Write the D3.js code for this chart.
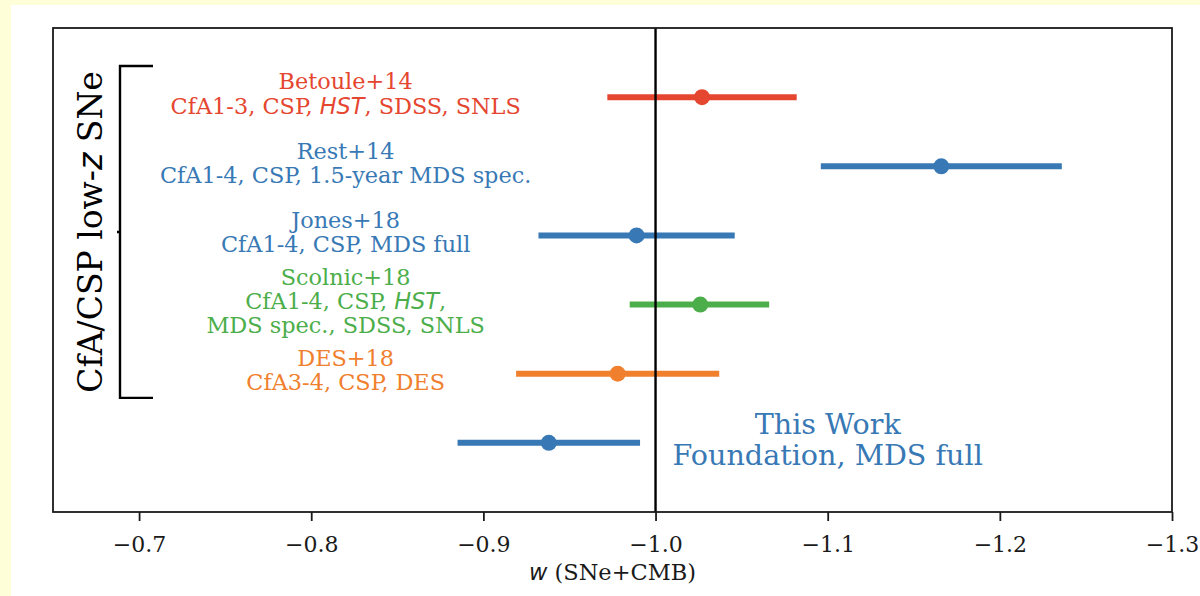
<!DOCTYPE html>
<html>
<head>
<meta charset="utf-8">
<script src="https://cdn.jsdelivr.net/npm/d3@7"></script>
<style>
  body { margin: 0; background: #fefed8; }
  svg { display: block; }
</style>
</head>
<body>
<svg id="chart" width="1200" height="596"></svg>
<script>
// Dark-energy equation-of-state constraints from SN Ia compilations
const analyses = ["Betoule+14", "Rest+14", "Jones+18", "Scolnic+18", "DES+18", "This Work"];
// Sample descriptions; text between $...$ is set in italic sans
const samples = [
  ["CfA1-3, CSP, $HST$, SDSS, SNLS"],
  ["CfA1-4, CSP, 1.5-year MDS spec."],
  ["CfA1-4, CSP, MDS full"],
  ["CfA1-4, CSP, $HST$,", "MDS spec., SDSS, SNLS"],
  ["CfA3-4, CSP, DES"],
  ["Foundation, MDS full"]
];
const wBest = [-1.027, -1.166, -0.989, -1.026, -0.978, -0.938];
const wLow  = [-0.972, -1.096, -0.932, -0.985, -0.919, -0.885];
const wHigh = [-1.082, -1.236, -1.046, -1.066, -1.037, -0.991];
const colors = ["#e5462f", "#3879b5", "#3879b5", "#4cae4a", "#f0802e", "#3879b5"];
const xTicks = [-0.7, -0.8, -0.9, -1.0, -1.1, -1.2, -1.3];
const groupLabel = "CfA/CSP low-";

const svg = d3.select("#chart");
const W = 1200, H = 596;
const plot = { left: 53, top: 28, right: 1172, bottom: 512 };
const serif = "'DejaVu Serif', serif";
const sansIt = "'DejaVu Sans', sans-serif";

// figure background
svg.append("rect").attr("x", 11).attr("y", 5).attr("width", W - 11).attr("height", H - 5).attr("fill", "#ffffff");

const x = d3.scaleLinear().domain([-0.65, -1.3]).range([plot.left, plot.right]);
const y = d3.scaleLinear().domain([0, analyses.length + 1]).range([plot.top, plot.bottom]);

// x axis
const xAxis = d3.axisBottom(x).tickValues(xTicks).tickSize(9).tickSizeOuter(0)
  .tickFormat(d => d3.format(".1f")(d).replace("-", "\u2212"));
const gx = svg.append("g").attr("transform", `translate(0,${plot.bottom})`).call(xAxis);
gx.select(".domain").remove();
gx.selectAll(".tick line").attr("stroke", "#1a1a1a").attr("stroke-width", 1.8);
gx.selectAll(".tick text").attr("font-family", serif).attr("font-size", 22)
  .attr("fill", "#1a1a1a").attr("dy", null).attr("y", 40);

// axis label: italic w followed by serif text
const xl = svg.append("text").attr("x", (plot.left + plot.right) / 2).attr("y", 580)
  .attr("text-anchor", "middle").attr("font-size", 22.5).attr("fill", "#1a1a1a");
xl.append("tspan").attr("font-family", sansIt).attr("font-style", "italic").text("w");
xl.append("tspan").attr("font-family", serif).text(" (SNe+CMB)");

// error bars and best-fit points
const idx = d3.range(analyses.length);
svg.append("g").selectAll("line").data(idx).join("line")
  .attr("x1", i => x(wLow[i])).attr("x2", i => x(wHigh[i]))
  .attr("y1", i => y(i + 1)).attr("y2", i => y(i + 1))
  .attr("stroke", i => colors[i]).attr("stroke-width", 6);
svg.append("g").selectAll("circle").data(idx).join("circle")
  .attr("cx", i => x(wBest[i])).attr("cy", i => y(i + 1)).attr("r", 8)
  .attr("fill", i => colors[i]);

// w = -1 reference
svg.append("line").attr("x1", x(-1)).attr("x2", x(-1))
  .attr("y1", plot.top).attr("y2", plot.bottom)
  .attr("stroke", "#000").attr("stroke-width", 2.4);

// write a line with $...$ segments in italic sans
function richLine(sel, str) {
  str.split("$").forEach((part, k) => {
    if (!part) return;
    const t = sel.append("tspan").text(part);
    if (k % 2 === 1) t.attr("font-family", sansIt).attr("font-style", "italic");
  });
}

// labels for the literature analyses
const labelX = x(-0.82);
const lineGap = 24.3;
idx.slice(0, 5).forEach(i => {
  const lines = [analyses[i]].concat(samples[i]);
  const n = lines.length;
  lines.forEach((ln, k) => {
    const t = svg.append("text").attr("x", labelX)
      .attr("y", y(i + 1) + 4.5 + (k - (n - 1) / 2) * lineGap)
      .attr("text-anchor", "middle").attr("font-family", serif).attr("font-size", 22.4)
      .attr("fill", colors[i]);
    richLine(t, ln);
  });
});

// label for this analysis
const last = analyses.length - 1;
[analyses[last]].concat(samples[last]).forEach((ln, k) => {
  svg.append("text").attr("x", x(-1.1)).attr("y", y(last + 1) - 9 + k * 31)
    .attr("text-anchor", "middle").attr("font-family", serif).attr("font-size", 28.6)
    .attr("fill", colors[last]).text(ln);
});

// bracket grouping the CfA/CSP low-z analyses
const bTop = y(0.55), bBot = y(5.35), bX = 120, bEnd = 153;
svg.append("path")
  .attr("d", `M${bEnd},${bTop}H${bX}V${bBot}H${bEnd}M${bX},${(bTop + bBot) / 2}h-3`)
  .attr("fill", "none").attr("stroke", "#000").attr("stroke-width", 2.4);
const gl = svg.append("text")
  .attr("transform", `translate(102,${(bTop + bBot) / 2}) rotate(-90)`)
  .attr("text-anchor", "middle").attr("font-family", serif).attr("font-size", 33).attr("fill", "#000");
gl.append("tspan").text(groupLabel);
gl.append("tspan").attr("font-family", sansIt).attr("font-style", "italic").text("z");
gl.append("tspan").text(" SNe");

// plot frame
svg.append("rect").attr("x", plot.left).attr("y", plot.top)
  .attr("width", plot.right - plot.left).attr("height", plot.bottom - plot.top)
  .attr("fill", "none").attr("stroke", "#1a1a1a").attr("stroke-width", 1.8);
</script>
</body>
</html>
